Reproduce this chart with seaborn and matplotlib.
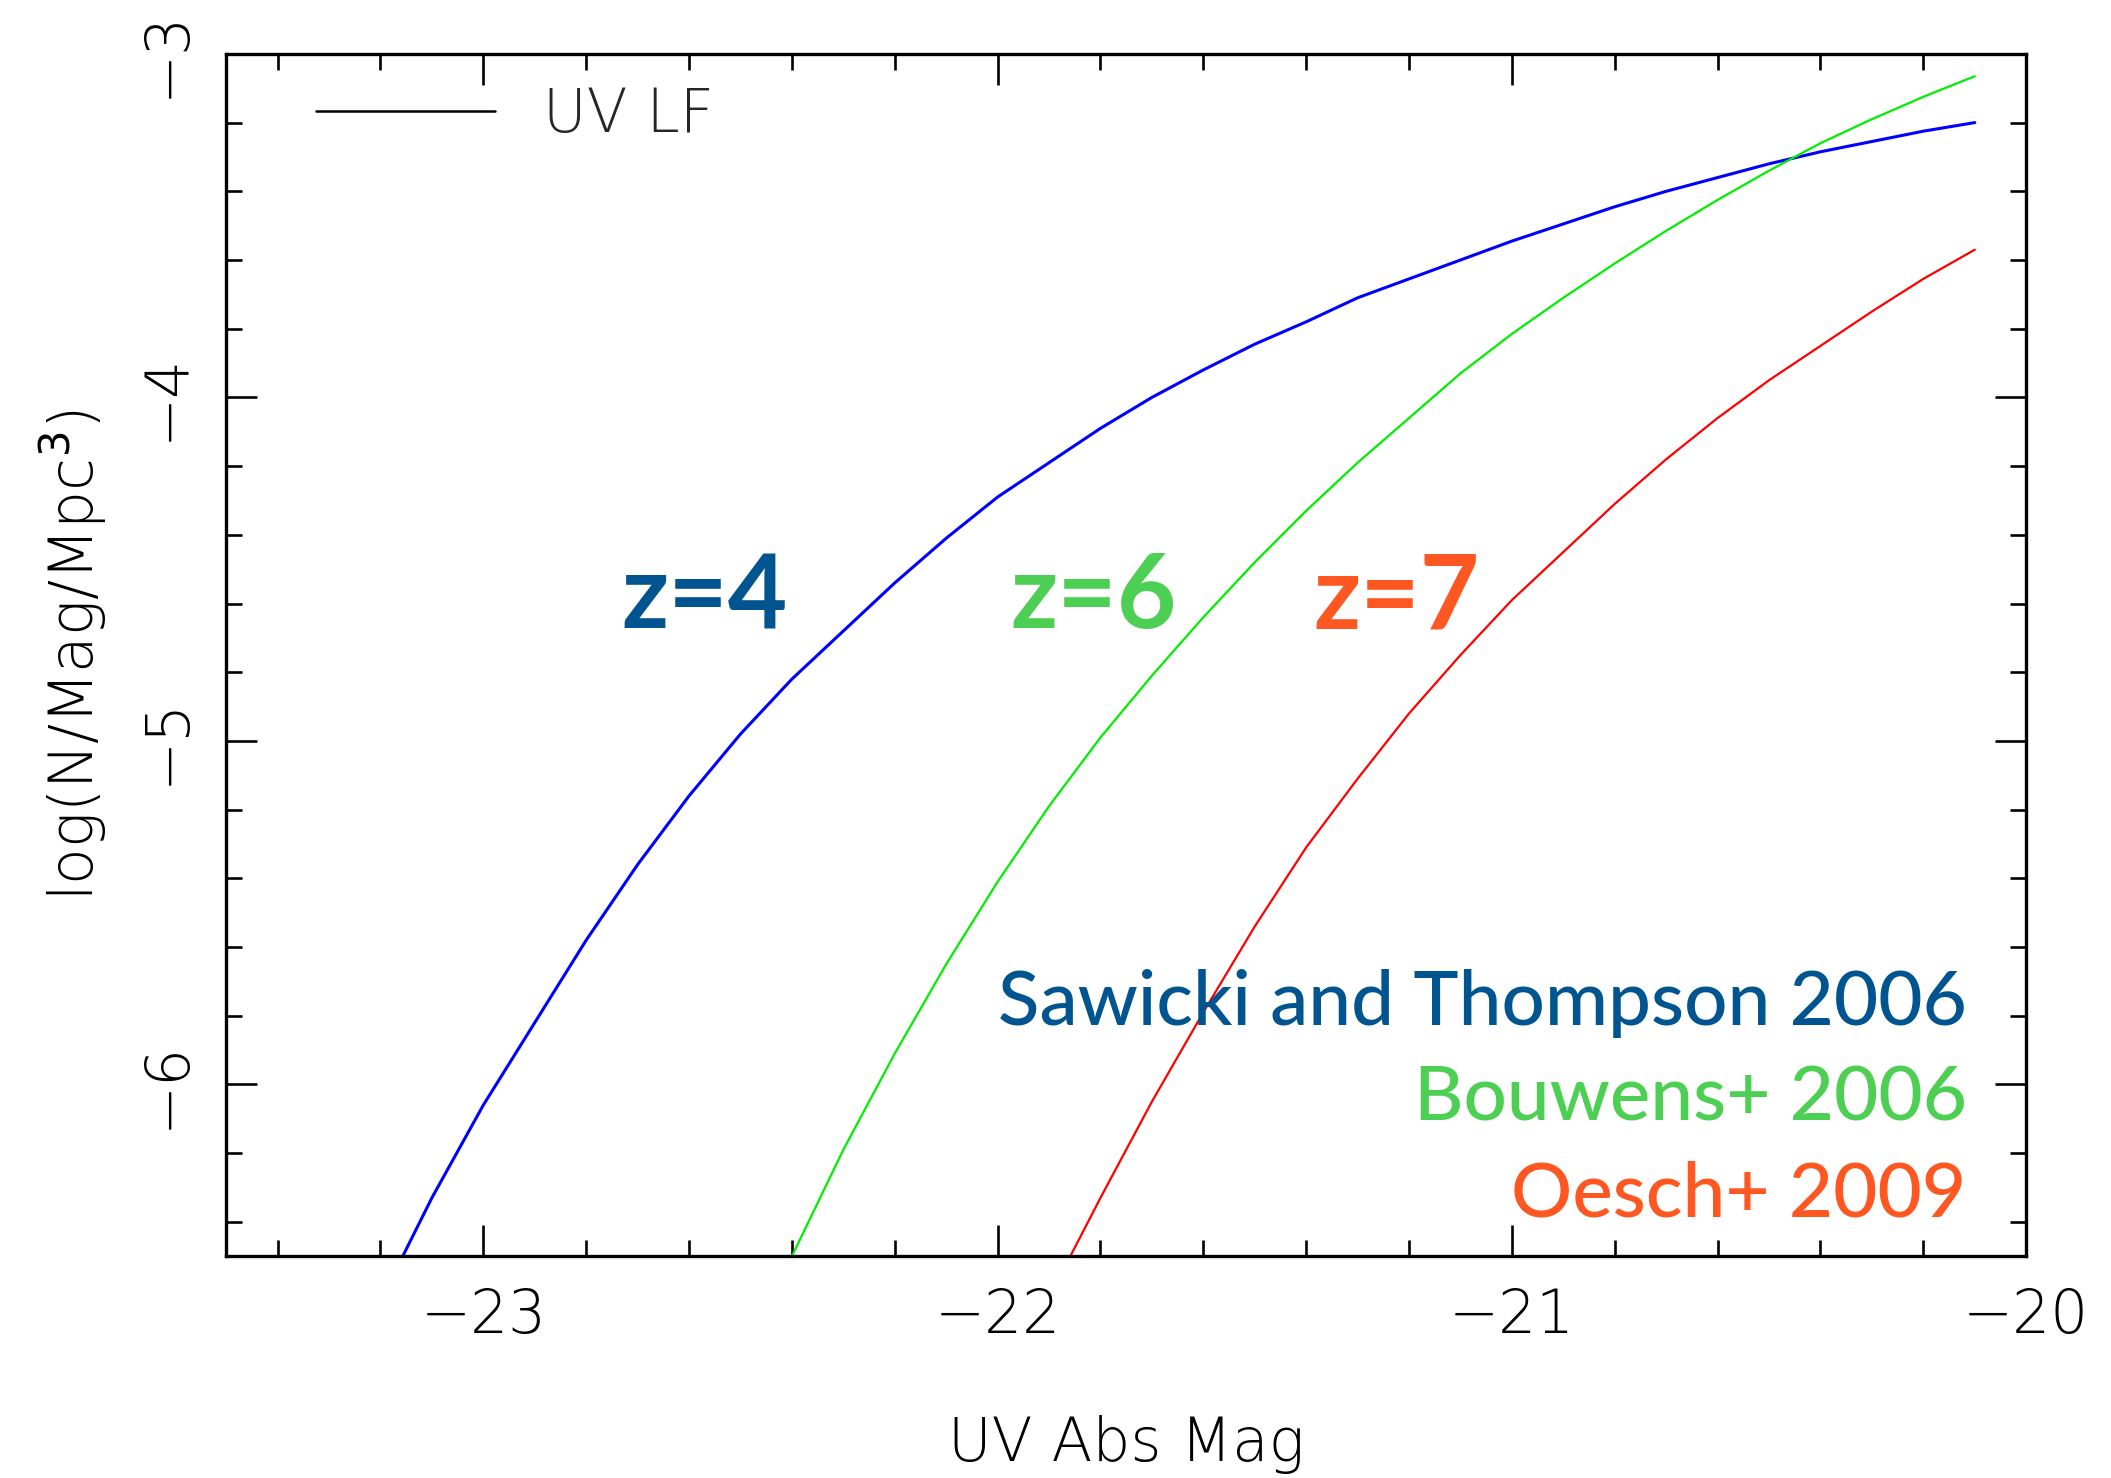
import matplotlib
matplotlib.use("Agg")
import matplotlib.pyplot as plt
from matplotlib.lines import Line2D
from matplotlib.ticker import MultipleLocator
import seaborn as sns
import pandas as pd

# ---- data ----
mag_z4 = [-23.2, -23.1, -23.0, -22.9, -22.8, -22.7, -22.6, -22.5, -22.4, -22.3, -22.2,
          -22.1, -22.0, -21.9, -21.8, -21.7, -21.6, -21.5, -21.4, -21.3, -21.2, -21.1,
          -21.0, -20.9, -20.8, -20.7, -20.6, -20.5, -20.4, -20.3, -20.2, -20.1]
logphi_z4 = [-6.63, -6.33, -6.06, -5.82, -5.58, -5.36, -5.16, -4.98, -4.82, -4.68, -4.54,
             -4.41, -4.29, -4.19, -4.09, -4.00, -3.92, -3.845, -3.78, -3.71, -3.655, -3.60,
             -3.545, -3.495, -3.445, -3.40, -3.36, -3.32, -3.285, -3.255, -3.225, -3.20]

mag_z6 = [-22.5, -22.4, -22.3, -22.2, -22.1, -22.0, -21.9, -21.8, -21.7, -21.6, -21.5,
          -21.4, -21.3, -21.2, -21.1, -21.0, -20.9, -20.8, -20.7, -20.6, -20.5, -20.4,
          -20.3, -20.2, -20.1]
logphi_z6 = [-6.84, -6.50, -6.19, -5.91, -5.65, -5.41, -5.19, -4.99, -4.81, -4.64, -4.48,
             -4.33, -4.19, -4.06, -3.93, -3.815, -3.71, -3.61, -3.515, -3.425, -3.34, -3.26,
             -3.19, -3.125, -3.065]

mag_z7 = [-21.9, -21.8, -21.7, -21.6, -21.5, -21.4, -21.3, -21.2, -21.1, -21.0, -20.9,
          -20.8, -20.7, -20.6, -20.5, -20.4, -20.3, -20.2, -20.1]
logphi_z7 = [-6.62, -6.33, -6.05, -5.79, -5.54, -5.31, -5.11, -4.92, -4.75, -4.59, -4.45,
             -4.31, -4.18, -4.06, -3.95, -3.85, -3.75, -3.655, -3.57]

x_ticks = [-23, -22, -21, -20]
y_ticks = [-6, -5, -4, -3]
x_label = "UV Abs Mag"
y_label = "log(N/Mag/Mpc$^3$)"
z_labels = ["z=4", "z=6", "z=7"]
ref_labels = ["Sawicki and Thompson 2006", "Bouwens+ 2006", "Oesch+ 2009"]

line_colors = ["#0000FF", "#00EE00", "#FF0000"]
text_colors = ["#00548F", "#4CCF52", "#FF5722"]

# ---- figure ----
sns.set_theme(style="ticks")
plt.rcParams["font.family"] = ["DejaVu Sans"]
plt.rcParams["mathtext.fontset"] = "dejavusans"

fig = plt.figure(figsize=(21.11, 14.78), dpi=100)
ax = fig.add_axes([0.10715, 0.15007, 0.85268, 0.81347])

series = [(mag_z4, logphi_z4, 2.2), (mag_z6, logphi_z6, 1.6), (mag_z7, logphi_z7, 1.6)]
for (m, lp, lw), c in zip(series, line_colors):
    df = pd.DataFrame({"mag": m, "logphi": lp})
    sns.lineplot(data=df, x="mag", y="logphi", ax=ax, color=c, lw=lw, sort=False,
                 estimator=None)

ax.set_xlim(-23.5, -20)
ax.set_ylim(-6.5, -3)
ax.set_xticks(x_ticks)
ax.set_yticks(y_ticks)
ax.xaxis.set_minor_locator(MultipleLocator(0.2))
ax.yaxis.set_minor_locator(MultipleLocator(0.2))
ax.set_xticklabels([f"\u2212{abs(v)}" for v in x_ticks], fontweight="light")
ax.set_yticklabels([f"\u2212{abs(v)}" for v in y_ticks], rotation=90, va="center",
                   fontweight="light")

ax.tick_params(which="both", direction="in", top=True, right=True, colors="black")
ax.tick_params(which="major", length=22, width=1.9, labelsize=43, pad=22)
ax.tick_params(which="minor", length=11.5, width=1.9)
ax.tick_params(axis="y", which="major", pad=21)
for s in ax.spines.values():
    s.set_linewidth(2.4)
    s.set_color("black")

ax.set_xlabel(x_label, fontsize=43, labelpad=50, color="black", fontweight="light")
ax.set_ylabel(y_label, fontsize=43, labelpad=21, color="black", fontweight="light")

# legend for line style
handle = Line2D([], [], color="black", lw=1.8)
leg = ax.legend([handle], ["UV LF"], loc="center left", bbox_to_anchor=(0.05, 0.949),
                frameon=False, handlelength=3.0, handletextpad=0.8,
                borderpad=0, borderaxespad=0, prop={"size": 43, "weight": "light"})

# redshift labels
z_pos = [(-22.732, -4.672), (-21.976, -4.672), (-21.387, -4.672)]
for (xx, yy), t, c in zip(z_pos, z_labels, text_colors):
    ax.text(xx, yy, t, color=c, fontsize=74, fontweight="bold", family=["Lato", "DejaVu Sans"],
            ha="left", va="baseline")

# reference labels
ref_y = [-5.827, -6.106, -6.383]
for yy, t, c in zip(ref_y, ref_labels, text_colors):
    ax.text(-20.116, yy, t, color=c, fontsize=55, fontweight="medium",
            family=["Lato", "DejaVu Sans"], ha="right", va="baseline")

fig.savefig("out.png", dpi=100, facecolor="white")
